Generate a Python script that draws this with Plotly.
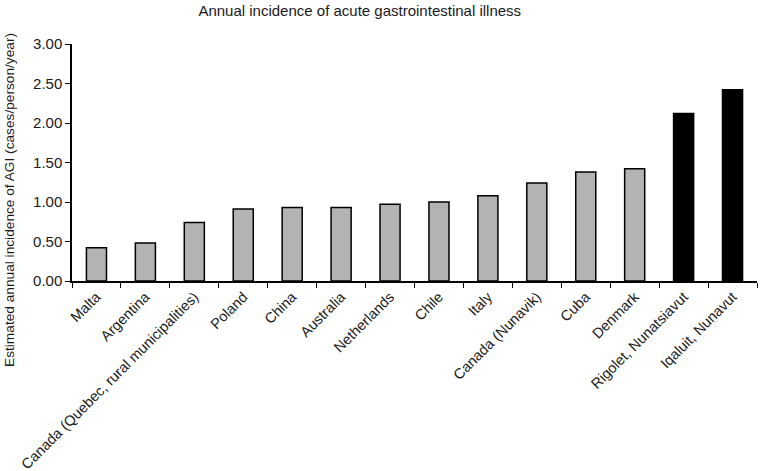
import plotly.graph_objects as go

categories = ["Malta", "Argentina", "Canada (Quebec, rural municipalities)", "Poland", "China",
              "Australia", "Netherlands", "Chile", "Italy", "Canada (Nunavik)", "Cuba",
              "Denmark", "Rigolet, Nunatsiavut", "Iqaluit, Nunavut"]
values = [0.42, 0.48, 0.74, 0.91, 0.93, 0.93, 0.97, 1.00, 1.08, 1.24, 1.38, 1.42, 2.12, 2.42]
bar_colors = ["#b3b3b3"] * 12 + ["#000000"] * 2
y_ticks = [0, 0.5, 1.0, 1.5, 2.0, 2.5, 3.0]

fig = go.Figure(go.Bar(
    x=categories, y=values,
    marker=dict(color=bar_colors, line=dict(color="#000000", width=1.5)),
    width=0.41,
))

font = "Liberation Sans, Arial, sans-serif"
fig.update_layout(
    width=763, height=471,
    margin=dict(l=72, r=6, t=44, b=190, autoexpand=False),
    paper_bgcolor="white", plot_bgcolor="white",
    font=dict(family=font, size=14, color="#1a1a1a"),
    showlegend=False,
    title=dict(text="Annual incidence of acute gastrointestinal illness",
               x=0.4715, xanchor="center", y=0.978, yanchor="middle",
               font=dict(family=font, size=15, color="#1a1a1a")),
    annotations=[dict(text="Estimated annual incidence of AGI (cases/person/year)",
                      textangle=-90, xref="paper", yref="paper",
                      x=-0.0905, y=0.342, xanchor="center", yanchor="middle",
                      showarrow=False, font=dict(family=font, size=13.7, color="#1a1a1a"))],
)
fig.update_xaxes(
    showline=True, linecolor="black", linewidth=1.5,
    ticks="outside", ticklen=5, tickcolor="black", tickson="boundaries",
    tickangle=-45, showgrid=False, tickfont=dict(size=14.5), automargin=False,
)
fig.update_yaxes(
    range=[0, 3.0], tickvals=y_ticks, tickformat=".2f",
    showline=True, linecolor="black", linewidth=1.5,
    ticks="outside", ticklen=5, tickcolor="black",
    showgrid=False, zeroline=False, tickfont=dict(size=15), automargin=False,
)
fig.write_html("out.html", config={"displayModeBar": False},
               post_script="document.body.style.margin='0';document.body.style.overflow='hidden';")
